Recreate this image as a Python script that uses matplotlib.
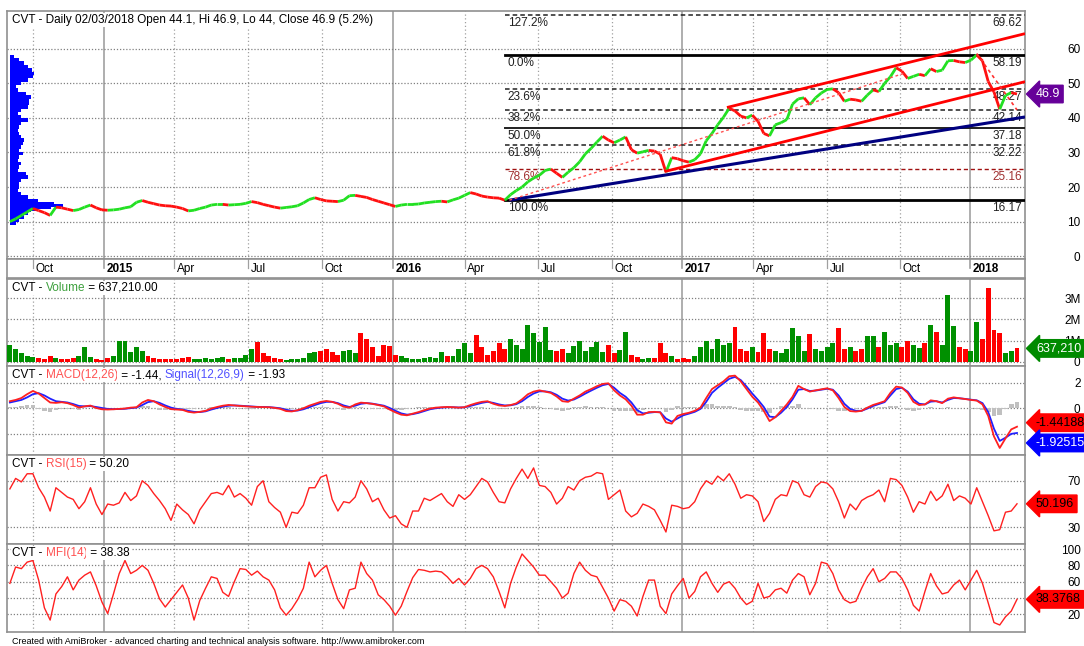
import numpy as np
import pandas as pd
import matplotlib
matplotlib.use('Agg')
import matplotlib.pyplot as plt
from matplotlib.collections import LineCollection
from pandas.tseries.holiday import USFederalHolidayCalendar

# weekly samples (every 5th trading day), last one = 02/03/2018
close = [10.0, 10.8, 11.8, 12.8, 13.8, 13.2, 12.6, 11.8, 14.2, 14.0,
         13.6, 13.2, 13.5, 14.2, 14.8, 14.0, 13.4, 13.3, 13.4, 13.6,
         14.0, 14.3, 15.6, 16.1, 15.6, 15.2, 14.8, 14.6, 14.5, 14.2,
         13.8, 13.1, 13.3, 13.8, 14.2, 14.8, 15.0, 15.0, 14.8, 14.9,
         15.0, 15.3, 15.8, 15.5, 15.0, 14.6, 14.2, 13.9, 14.1, 14.3,
         14.6, 15.4, 16.4, 16.9, 16.4, 16.0, 15.9, 15.8, 16.2, 17.5,
         17.6, 17.3, 17.0, 16.4, 15.9, 15.4, 14.9, 14.4, 14.8, 15.0,
         15.0, 15.1, 15.4, 15.6, 15.8, 15.9, 15.7, 16.3, 16.8, 17.6,
         18.4, 18.0, 17.4, 17.1, 16.9, 16.8, 16.2, 17.8, 19.0, 20.0,
         21.5, 22.6, 23.4, 24.8, 25.2, 24.0, 22.8, 24.3, 25.6, 27.3,
         29.6, 31.2, 33.0, 34.7, 33.6, 32.8, 33.6, 34.5, 30.8, 29.8,
         30.2, 30.6, 30.4, 29.5, 24.3, 28.5, 28.2, 27.6, 27.2, 27.9,
         29.6, 33.4, 35.5, 38.0, 40.2, 42.8, 42.0, 40.5, 40.0, 40.8,
         39.0, 35.5, 34.8, 38.0, 38.6, 39.5, 44.0, 45.5, 45.8, 43.8,
         45.8, 47.2, 48.2, 48.4, 47.3, 44.8, 45.4, 45.2, 44.8, 46.6,
         48.1, 47.6, 50.0, 51.9, 54.5, 53.5, 51.4, 52.0, 52.6, 52.2,
         54.2, 53.4, 53.8, 56.5, 56.6, 56.2, 56.0, 56.7, 58.2, 56.5,
         50.5, 47.5, 42.5, 46.5, 47.3, 46.9]

volume_m = [0.8, 0.62, 0.4, 0.3, 0.25, 0.2, 0.15, 0.3, 0.18, 0.12,
            0.15, 0.2, 0.3, 0.7, 0.25, 0.12, 0.1, 0.2, 0.3, 1.0,
            1.0, 0.45, 0.7, 0.5, 0.3, 0.2, 0.15, 0.12, 0.15, 0.12,
            0.2, 0.25, 0.15, 0.12, 0.18, 0.15, 0.2, 0.25, 0.15, 0.2,
            0.2, 0.35, 0.6, 0.95, 0.4, 0.3, 0.2, 0.15, 0.1, 0.15,
            0.12, 0.2, 0.4, 0.45, 0.5, 0.6, 0.45, 0.35, 0.5, 0.55,
            0.4, 1.34, 1.1, 0.7, 0.3, 0.8, 0.75, 0.35, 0.3, 0.2,
            0.15, 0.12, 0.2, 0.25, 0.2, 0.45, 0.3, 0.3, 0.6, 0.87,
            0.4, 1.26, 0.7, 0.35, 0.5, 0.9, 0.6, 1.1, 0.8, 0.6,
            1.74, 1.34, 0.95, 1.66, 0.55, 0.5, 0.6, 0.4, 0.75, 1.0,
            0.5, 0.7, 0.95, 0.45, 0.8, 0.4, 0.55, 1.42, 0.35, 0.25,
            0.15, 0.2, 0.18, 0.87, 0.4, 0.3, 0.15, 0.2, 0.15, 0.3,
            0.7, 1.0, 0.6, 1.1, 0.8, 0.9, 1.66, 0.6, 0.5, 0.7,
            0.45, 1.37, 0.6, 0.5, 0.4, 0.6, 1.58, 1.2, 0.5, 1.3,
            0.6, 0.5, 0.7, 0.9, 1.58, 0.6, 0.7, 0.5, 0.6, 1.2,
            1.2, 0.7, 1.4, 0.8, 0.9, 0.7, 1.0, 0.8, 0.65, 0.9,
            1.74, 1.42, 0.8, 3.13, 1.7, 0.7, 0.6, 0.5, 1.9, 1.1,
            3.47, 1.5, 1.34, 0.4, 0.5, 0.637]

macd = [0.55, 0.65, 0.8, 1.1, 1.35, 1.15, 0.8, 0.45, 0.42, 0.47,
        0.4, 0.25, 0.05, 0.15, 0.21, 0.02, -0.08, -0.1, -0.08, -0.05,
        -0.02, 0.05, 0.08, 0.45, 0.65, 0.55, 0.3, 0.1, -0.07, -0.1,
        -0.13, -0.28, -0.34, -0.28, -0.2, -0.02, 0.1, 0.2, 0.26, 0.22,
        0.18, 0.15, 0.12, 0.1, 0.09, 0.08, 0.03, -0.05, -0.22, -0.25,
        -0.15, 0.0, 0.2, 0.35, 0.5, 0.57, 0.5, 0.35, 0.12, 0.05,
        0.3, 0.44, 0.4, 0.34, 0.25, 0.15, -0.1, -0.32, -0.5, -0.55,
        -0.42, -0.3, -0.15, -0.02, 0.05, 0.08, 0.1, 0.08, 0.05, 0.08,
        0.25, 0.39, 0.5, 0.55, 0.35, 0.22, 0.18, 0.25, 0.38, 0.7,
        1.09, 1.3, 1.4, 1.3, 1.2, 0.92, 0.55, 0.5, 0.75, 1.0,
        1.3, 1.5, 1.72, 1.9, 1.95, 1.4, 1.0, 0.7, 0.2, -0.5,
        -0.5, -0.3, -0.28, -0.32, -1.1, -1.2, -0.6, -0.45, -0.35, -0.2,
        0.05, 0.8, 1.5, 1.8, 2.1, 2.5, 2.55, 2.1, 1.5, 0.9,
        0.45, -0.2, -1.0, -0.7, -0.2, 0.3, 0.9, 1.75, 1.5, 1.3,
        1.4, 1.48, 1.56, 1.4, 0.8, 0.1, -0.22, -0.26, -0.2, 0.05,
        0.26, 0.4, 0.55, 1.2, 1.69, 1.62, 1.2, 0.5, 0.25, 0.3,
        0.62, 0.55, 0.4, 0.75, 0.85, 0.78, 0.72, 0.65, 0.6, 0.3,
        -0.6, -2.2, -3.1, -2.35, -1.65, -1.44]

signal = [0.45, 0.55, 0.65, 0.85, 1.1, 1.18, 1.0, 0.75, 0.55, 0.5,
          0.45, 0.33, 0.18, 0.15, 0.17, 0.1, 0.02, -0.05, -0.07, -0.06,
          -0.04, 0.01, 0.05, 0.25, 0.48, 0.55, 0.42, 0.22, 0.05, -0.05,
          -0.1, -0.2, -0.28, -0.3, -0.24, -0.1, 0.02, 0.13, 0.2, 0.22,
          0.2, 0.17, 0.14, 0.11, 0.1, 0.09, 0.05, 0.0, -0.12, -0.2,
          -0.18, -0.08, 0.08, 0.25, 0.4, 0.5, 0.5, 0.4, 0.22, 0.1,
          0.2, 0.35, 0.4, 0.36, 0.28, 0.2, 0.02, -0.2, -0.4, -0.5,
          -0.46, -0.36, -0.22, -0.08, 0.0, 0.05, 0.08, 0.08, 0.06, 0.07,
          0.18, 0.3, 0.42, 0.5, 0.42, 0.3, 0.22, 0.23, 0.32, 0.55,
          0.88, 1.15, 1.32, 1.32, 1.25, 1.05, 0.75, 0.6, 0.68, 0.9,
          1.15, 1.38, 1.6, 1.8, 1.9, 1.6, 1.2, 0.9, 0.45, -0.15,
          -0.4, -0.35, -0.3, -0.31, -0.8, -1.05, -0.8, -0.55, -0.42, -0.28,
          -0.05, 0.5, 1.2, 1.6, 1.95, 2.3, 2.45, 2.2, 1.7, 1.15,
          0.65, 0.1, -0.65, -0.7, -0.35, 0.1, 0.7, 1.45, 1.5, 1.35,
          1.38, 1.45, 1.52, 1.45, 1.0, 0.35, -0.05, -0.2, -0.2, -0.02,
          0.18, 0.33, 0.48, 1.0, 1.5, 1.6, 1.3, 0.7, 0.35, 0.3,
          0.52, 0.55, 0.45, 0.65, 0.8, 0.78, 0.73, 0.67, 0.62, 0.4,
          -0.3, -1.6, -2.55, -2.3, -2.0, -1.93]

rsi = [63, 72, 69, 76, 76, 64, 56, 44, 64, 60,
       56, 54, 46, 52, 64, 50, 41, 50, 49, 51,
       60, 53, 57, 70, 66, 59, 53, 46, 36, 50,
       45, 41, 33, 45, 52, 59, 60, 58, 66, 56,
       59, 55, 49, 65, 70, 52, 47, 43, 30, 43,
       42, 49, 64, 64, 73, 75, 54, 44, 52, 51,
       56, 70, 63, 52, 55, 45, 38, 40, 33, 30,
       44, 44, 55, 53, 56, 59, 52, 48, 58, 54,
       58, 65, 72, 69, 60, 52, 51, 63, 72, 80,
       72, 81, 66, 65, 60, 50, 55, 65, 62, 70,
       73, 74, 77, 76, 54, 58, 62, 44, 39, 42,
       50, 48, 45, 36, 26, 49, 48, 46, 47, 52,
       63, 70, 67, 74, 70, 76, 67, 55, 58, 57,
       52, 35, 42, 54, 58, 57, 70, 68, 58, 56,
       65, 69, 68, 63, 52, 38, 50, 45, 53, 56,
       58, 62, 52, 72, 71, 66, 56, 43, 52, 50,
       61, 53, 57, 67, 53, 57, 55, 50, 64, 52,
       40, 27, 28, 43, 44, 50.2]

mfi = [58, 78, 76, 84, 86, 62, 28, 13, 45, 54,
       66, 50, 62, 68, 72, 55, 35, 21, 45, 70,
       86, 70, 74, 80, 74, 58, 39, 29, 38, 47,
       56, 40, 13, 37, 52, 66, 64, 47, 42, 60,
       76, 75, 68, 73, 66, 62, 50, 28, 19, 27,
       38, 52, 84, 66, 74, 80, 58, 38, 27, 50,
       52, 84, 70, 62, 44, 38, 30, 19, 30, 48,
       65, 75, 74, 72, 73, 72, 66, 58, 64, 56,
       64, 76, 80, 76, 66, 48, 28, 58, 78, 94,
       86, 78, 68, 68, 60, 52, 40, 46, 70, 84,
       74, 68, 66, 53, 40, 24, 38, 36, 30, 18,
       42, 62, 62, 30, 21, 45, 55, 64, 40, 48,
       66, 72, 58, 47, 57, 60, 52, 40, 32, 36,
       58, 40, 42, 50, 52, 46, 62, 70, 66, 44,
       58, 84, 82, 70, 50, 38, 34, 36, 52, 66,
       76, 60, 64, 72, 72, 64, 50, 31, 24, 48,
       70, 55, 45, 47, 56, 62, 50, 62, 74, 58,
       34, 10, 7, 17, 24, 38.4]

# volume-at-price profile (price level, relative volume)
profile_price = [57.7, 56.8, 55.8, 54.9, 53.9, 52.9, 51.9, 51.0, 50.0, 49.0,
                 48.1, 47.1, 46.1, 45.2, 44.2, 43.2, 42.3, 41.3, 40.4, 39.4,
                 38.4, 37.4, 36.5, 35.5, 34.5, 33.6, 32.6, 31.6, 30.7, 29.7,
                 28.7, 27.8, 26.8, 25.8, 24.9, 23.9, 22.9, 21.9, 21.0, 20.0,
                 19.0, 18.1, 17.1, 16.1, 15.2, 14.7, 14.2, 13.7, 13.3, 12.3,
                 11.3, 10.4, 9.4]
profile_vol = [1, 6, 11, 15, 19, 21, 20, 15, 8, 3,
               5, 13, 18, 16, 16, 15, 8, 5, 8, 15,
               8, 6, 5, 6, 8, 11, 10, 8, 6, 10,
               6, 5, 8, 6, 5, 13, 15, 8, 6, 6,
               5, 8, 15, 25, 41, 50, 38, 25, 18, 15,
               11, 6, 3]

fib_pct = ['127.2%', '0.0%', '23.6%', '38.2%', '50.0%', '61.8%', '78.6%', '100.0%']
fib_val = [69.62, 58.19, 48.27, 42.14, 37.18, 32.22, 25.16, 16.17]

# trend lines: two anchors (date, price) each, extended to the right edge
upper_channel = [('2017-03-01', 43.0), ('2018-01-26', 61.8)]
lower_channel = [('2016-12-09', 24.5), ('2018-01-26', 47.9)]
support_line = [('2016-05-26', 16.2), ('2018-01-26', 38.6)]
dotted_up = [('2016-05-26', 16.2), ('2017-10-10', 53.0)]
dotted_down = [('2018-01-10', 58.6), ('2018-03-02', 42.3)]

plt.rcParams['font.family'] = ['Liberation Sans', 'DejaVu Sans']

W, H = 1084, 646
fig = plt.figure(figsize=(W / 100, H / 100), dpi=100)
fig.patch.set_facecolor('white')

hol = USFederalHolidayCalendar().holidays('2014-01-01', '2018-12-31')
days = pd.bdate_range('2014-06-02', '2018-03-02', freq='C', holidays=hol)
last = len(days) - 1
N = len(close)
for arr in (volume_m, macd, signal, rsi, mfi):
    assert len(arr) == N, len(arr)
xs = last - 5 * (N - 1 - np.arange(N))

px_day = 1.151
xmax = last + 8 / px_day
xmin = xmax - 1018 / px_day

months = pd.date_range('2014-10-01', '2018-01-01', freq='QS')
tick_x = [days.searchsorted(m) for m in months]
tick_lab = [str(m.year) if m.month == 1 else m.strftime('%b') for m in months]
is_year = [m.month == 1 for m in months]


def dx(d):
    return days.searchsorted(pd.Timestamp(d))


def add_ax(top, bottom):
    ax = fig.add_axes([7 / W, 1 - bottom / H, 1018 / W, (bottom - top) / H])
    ax.set_xlim(xmin, xmax)
    for s in ax.spines.values():
        s.set_color('#909090')
        s.set_linewidth(1.2)
    ax.set_xticks([])
    ax.yaxis.tick_right()
    ax.tick_params(axis='y', length=0, pad=40, labelsize=8.5)
    return ax


def vgrid(ax):
    for x, y in zip(tick_x, is_year):
        if y:
            ax.axvline(x, color='#a8a8a8', lw=1.3, zorder=0)
        else:
            ax.axvline(x, color='#a0a0a0', lw=0.9, ls=(0, (1, 2)), zorder=0)


def hgrid(ax, vals):
    for v in vals:
        ax.axhline(v, color='#808080', lw=0.9, ls=(0, (1, 1.5)), zorder=0)


def right_labels(ax, vals, labs):
    ax.set_yticks(vals)
    ax.set_yticklabels(labs)
    for t in ax.get_yticklabels():
        t.set_horizontalalignment('right')


def tag(ax, val, text, fc, tc, dy=0):
    ax.annotate(text, xy=(1, val), xycoords=('axes fraction', 'data'),
                xytext=(11, dy), textcoords='offset pixels', ha='left', va='center',
                fontsize=9, color=tc, annotation_clip=False, zorder=10,
                bbox=dict(boxstyle='larrow,pad=0.22', fc=fc, ec=fc))


def title(ax, parts):
    prev = None
    for s, c in parts:
        kw = dict(fontsize=8.5, color=c, zorder=9,
                  bbox=dict(fc='white', ec='none', pad=0.6))
        if prev is None:
            prev = ax.annotate(s, xy=(0, 1), xycoords='axes fraction', xytext=(5, -3),
                               textcoords='offset pixels', ha='left', va='top', **kw)
        else:
            prev = ax.annotate(s, xy=(1, 0), xycoords=prev, ha='left', va='bottom', **kw)


close_a = np.array(close)
up = np.concatenate([[True], np.diff(close_a) >= 0])

# ---------------- price panel ----------------
ax = add_ax(11, 259)
ax.set_ylim(-0.8, 70.9)
vgrid(ax)
hgrid(ax, range(0, 61, 10))
right_labels(ax, list(range(0, 61, 10)), [str(v) for v in range(0, 61, 10)])

# volume profile
scale = 50 / px_day / max(profile_vol)
ax.barh(profile_price, np.array(profile_vol) * scale + 3 / px_day, height=1.0,
        left=xs[0], color='#0000ff', lw=0, zorder=2)

i_low = 80 + int(np.argmin(close_a[80:100]))
x0 = xs[i_low]
for p, v in zip(fib_pct, fib_val):
    if p in ('0.0%', '100.0%'):
        st = dict(color='black', lw=2.0, ls='-')
    elif p == '50.0%':
        st = dict(color='#202020', lw=1.4, ls='-')
    elif p == '78.6%':
        st = dict(color='#a01010', lw=1.0, ls=(0, (3, 2)))
    else:
        st = dict(color='#202020', lw=1.1, ls=(0, (3, 2)))
    ax.plot([x0, xmax], [v, v], zorder=3, **st)
    tc = '#a03030' if p == '78.6%' else '#202020'
    ax.annotate(p, xy=(x0, v), xytext=(3, -2), textcoords='offset pixels',
                ha='left', va='top', fontsize=8.5, color=tc, zorder=4)
    ax.annotate('%.2f' % v, xy=(1, v), xycoords=('axes fraction', 'data'),
                xytext=(-3, -2), textcoords='offset pixels', ha='right', va='top',
                fontsize=8.5, color=tc, zorder=4)

pts = np.column_stack([xs, close_a])
segs = np.stack([pts[:-1], pts[1:]], axis=1)
cols = np.where(up[1:], '#22e022', '#ff1010')
ax.add_collection(LineCollection(segs, colors=cols, linewidths=2.0, zorder=5))


def trend(anchors, **kw):
    (d1, p1), (d2, p2) = anchors
    x1, x2 = dx(d1), dx(d2)
    slope = (p2 - p1) / (x2 - x1)
    ax.plot([x1, xmax], [p1, p1 + slope * (xmax - x1)], zorder=6,
            solid_capstyle='butt', **kw)


trend(support_line, color='#000080', lw=2.2)
trend(upper_channel, color='#ff0000', lw=2.0)
trend(lower_channel, color='#ff0000', lw=2.0)
(d1, p1), (d2, p2) = dotted_up
ax.plot([dx(d1), dx(d2)], [p1, p2], color='#ff5050', lw=1.0, ls=(0, (2, 2)), zorder=6)
(d1, p1), (d2, p2) = dotted_down
ax.plot([dx(d1), dx(d2)], [p1, p2], color='#ff3030', lw=1.2, ls=(0, (2, 2)), zorder=6)

title(ax, [('CVT - Daily 02/03/2018 Open 44.1, Hi 46.9, Lo 44, Close 46.9 (5.2%)', 'black')])
tag(ax, close[-1], '%.1f' % close[-1], '#660099', 'white')

# ---------------- date strip ----------------
axd = add_ax(259, 278)
axd.set_ylim(0, 1)
axd.set_yticks([])
for x, y, lab in zip(tick_x, is_year, tick_lab):
    axd.plot([x, x], [1, 0.55], color='#a0a0a0', lw=1.2 if y else 0.9)
    axd.text(x + 2.5 / px_day, 0.45, lab, ha='left', va='center', fontsize=8.5,
             fontweight='bold' if y else 'normal')

# ---------------- volume ----------------
axv = add_ax(279, 366)
axv.set_ylim(-0.19e6, 3.9e6)
vgrid(axv)
hgrid(axv, [0, 1e6, 2e6, 3e6])
right_labels(axv, [0, 1e6, 2e6, 3e6], ['0', '1M', '2M', '3M'])
vcols = np.where(up, '#009000', '#ff0000')
axv.bar(xs, np.array(volume_m) * 1e6, width=4.3, color=vcols, lw=0, zorder=3)
title(axv, [('CVT - ', 'black'), ('Volume', '#3da03d'), (' = 637,210.00', 'black')])
tag(axv, volume_m[-1] * 1e6, '637,210', '#008a00', 'white')

# ---------------- MACD ----------------
axm = add_ax(366, 455)
axm.set_ylim(-3.65, 3.3)
vgrid(axm)
hgrid(axm, [-2, 0, 2])
right_labels(axm, [-2, 0, 2], ['', '0', '2'])
hist = np.array(macd) - np.array(signal)
axm.bar(xs, hist, width=4.0, color='#c0c0c0', lw=0, zorder=2)
axm.plot(xs, signal, color='#2020ff', lw=1.3, zorder=4)
axm.plot(xs, macd, color='#ff2020', lw=1.3, zorder=5)
title(axm, [('CVT - ', 'black'), ('MACD(12,26)', '#ff5050'), (' = -1.44, ', 'black'),
            ('Signal(12,26,9)', '#5050ff'), (' = -1.93', 'black')])
tag(axm, macd[-1], '-1.44188', '#ff0000', 'black', dy=4)
tag(axm, signal[-1], '-1.92515', '#0000ff', 'white', dy=-10)

# ---------------- RSI ----------------
axr = add_ax(455, 544)
axr.set_ylim(15.7, 92.1)
vgrid(axr)
hgrid(axr, [30, 70])
right_labels(axr, [30, 70], ['30', '70'])
axr.plot(xs, rsi, color='#ff2020', lw=1.0, zorder=4)
title(axr, [('CVT - ', 'black'), ('RSI(15)', '#ff5050'), (' = 50.20', 'black')])
tag(axr, rsi[-1], '50.196', '#ff0000', 'black')

# ---------------- MFI ----------------
axf = add_ax(544, 632)
axf.set_ylim(-1.6, 106.2)
vgrid(axf)
hgrid(axf, [20, 40, 60, 80, 100])
right_labels(axf, [20, 40, 60, 80, 100], ['20', '', '60', '80', '100'])
axf.plot(xs, mfi, color='#ff2020', lw=1.0, zorder=4)
title(axf, [('CVT - ', 'black'), ('MFI(14)', '#ff5050'), (' = 38.38', 'black')])
tag(axf, mfi[-1], '38.3768', '#ff0000', 'black')

fig.text(12 / W, 1 - 641 / H,
         'Created with AmiBroker - advanced charting and technical analysis software. http://www.amibroker.com',
         fontsize=6.5, va='center', ha='left')

fig.savefig('out.png', dpi=100, facecolor='white')
